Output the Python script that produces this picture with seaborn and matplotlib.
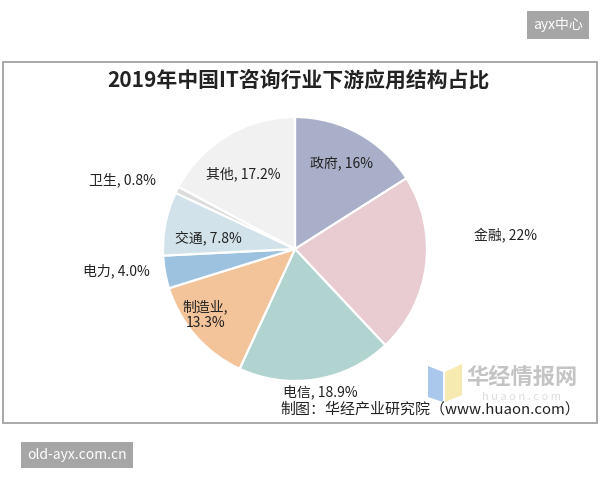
import numpy as np
import matplotlib
matplotlib.use('Agg')
import matplotlib.pyplot as plt
from matplotlib.patches import Rectangle, Polygon
import seaborn as sns

sns.set_theme(style='white')
plt.rcParams['font.family'] = ['Noto Sans CJK SC', 'DejaVu Sans']

categories = ['政府', '金融', '电信', '制造业', '电力', '交通', '卫生', '其他']
shares = [16, 22, 18.9, 13.3, 4.0, 7.8, 0.8, 17.2]
label_texts = ['政府, 16%', '金融, 22%', '电信, 18.9%', '制造业,\n13.3%',
               '电力, 4.0%', '交通, 7.8%', '卫生, 0.8%', '其他, 17.2%']
colors = ['#a9afc8', '#e8ccd2', '#b2d4d1', '#f3c39a', '#9dc2e0', '#d2e2ea', '#dcdcdc', '#f1f1f1']
# radial distance and angle tweak for each label
label_r = [0.73, 1.60, 1.10, 0.84, 1.36, 0.66, 1.41, 0.69]
label_dang = [0, 11, 1, -5, -3, 4, 5, 4]

fig = plt.figure(figsize=(6, 4.8), dpi=100)
fig.patch.set_facecolor('white')

def fx(px):
    return px / 600

def fy(py):
    return 1 - py / 480

# outer frame
fig.patches.append(Rectangle((fx(3), fy(423)), fx(594), 361 / 480, transform=fig.transFigure,
                             facecolor='white', edgecolor='#9a9a9a', linewidth=1.2, zorder=-5))

ax = fig.add_axes([0, 0, 1, 1])
ax.axis('off')
ax.patch.set_alpha(0)

wedges, _ = ax.pie(shares, colors=colors, startangle=90, counterclock=False, radius=1,
                   wedgeprops=dict(edgecolor='white', linewidth=1.6))
ax.set_aspect('auto')
ax.set_xlim(-295 / 132, 305 / 132)
ax.set_ylim(-(480 - 249) / 132, 249 / 132)

for w, txt, r, da in zip(wedges, label_texts, label_r, label_dang):
    ang = np.deg2rad((w.theta1 + w.theta2) / 2 + da)
    ax.text(r * np.cos(ang), r * np.sin(ang), txt, ha='center', va='center',
            fontsize=10, color='#222222', linespacing=1.2)

fig.text(fx(298), fy(80), '2019年中国IT咨询行业下游应用结构占比', ha='center', va='center',
         fontsize=15, fontweight='bold', color='#222222')

# watermark logo
fig.patches.append(Polygon([(fx(428), fy(366)), (fx(443), fy(372)), (fx(443), fy(402)), (fx(428), fy(397))],
                           closed=True, transform=fig.transFigure, facecolor='#a9c8ec', edgecolor='none'))
fig.patches.append(Polygon([(fx(445), fy(372)), (fx(462), fy(364)), (fx(462), fy(395)), (fx(445), fy(402))],
                           closed=True, transform=fig.transFigure, facecolor='#f7eab0', edgecolor='none'))
fig.text(fx(522), fy(377), '华经情报网', ha='center', va='center', fontsize=16,
         fontweight='bold', color='#c4c4c4')
fig.text(fx(522), fy(397), 'h u a o n . c o m', ha='center', va='center', fontsize=8, color='#dddddd')

fig.text(fx(430), fy(409), '制图：华经产业研究院（www.huaon.com）', ha='center', va='center',
         fontsize=10.8, color='#222222')

# site tags
fig.text(fx(558), fy(25), 'ayx中心', ha='center', va='center', fontsize=10, color='white',
         bbox=dict(boxstyle='square,pad=0.45', facecolor='#a6a6a6', edgecolor='none'))
fig.text(fx(77), fy(455), 'old-ayx.com.cn', ha='center', va='center', fontsize=10, color='white',
         bbox=dict(boxstyle='square,pad=0.45', facecolor='#a6a6a6', edgecolor='none'))

fig.savefig('out.png', dpi=100)
